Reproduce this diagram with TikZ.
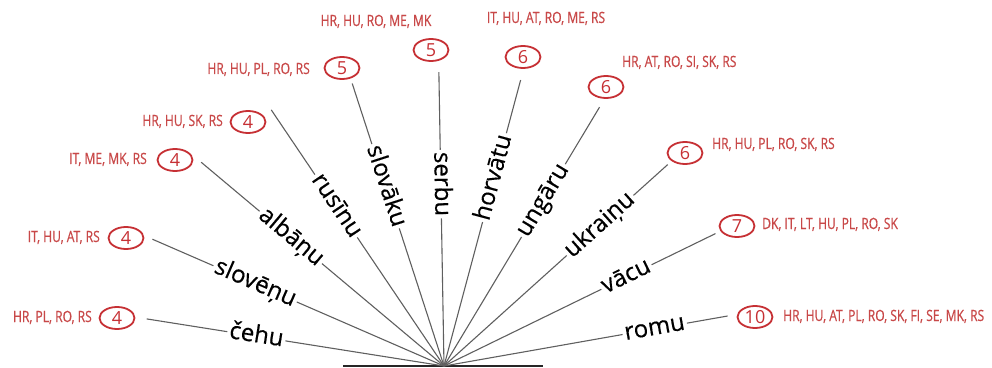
\documentclass[tikz,border=0pt]{standalone}
\usepackage{fontspec}
\setmainfont{Open Sans}
\newfontfamily\codefont{Open Sans}[FakeStretch=0.78,FakeBold=0.6]
\newfontfamily\wordfont{Open Sans}[FakeBold=0.4]
\usetikzlibrary{calc,shapes.geometric}
\definecolor{cred}{RGB}{198,48,52}
\definecolor{tred}{RGB}{200,72,72}
\definecolor{rayc}{RGB}{95,95,95}
\begin{document}
\begin{tikzpicture}[x=1pt,y=1pt,
  ray/.style={draw=rayc,line width=1.1pt},
  word/.style={font=\wordfont\fontsize{24}{24}\selectfont, text height=17pt, text depth=5pt, inner sep=2pt},
  num/.style={ellipse,draw=cred,line width=1.8pt,minimum width=35pt,minimum height=22pt,inner sep=0pt,text=cred,font=\fontsize{18}{18}\selectfont},
  codes/.style={text=tred,font=\codefont\fontsize{15.5}{15.5}\selectfont,inner sep=0pt,text height=11pt,text depth=3pt}
]
\useasboundingbox (0,0) rectangle (992,367);
\coordinate (hub) at (444,1);
\coordinate (bl) at (343,1);
\coordinate (br) at (543,1);
\draw[draw=black!85,line width=1.5pt] (bl) -- (br);

% words (left side: east toward hub)
\node[word,rotate=-9]   (w1) at ($(hub)+(171:190)$) {čehu};
\node[word,rotate=-23.5](w2) at ($(hub)+(156.5:206)$) {slovēņu};
\node[word,rotate=-40]  (w3) at ($(hub)+(140:200)$) {albāņu};
\node[word,rotate=-56]  (w4) at ($(hub)+(124:193)$) {rusīnu};
\node[word,rotate=-72]  (w5) at ($(hub)+(108:189)$) {slovāku};
\node[word,rotate=-89]  (w6) at ($(hub)+(91:182)$) {serbu};
% right side: west toward hub
\node[word,rotate=75] (w7) at ($(hub)+(75:195)$) {horvātu};
\node[word,rotate=59] (w8) at ($(hub)+(59:193)$) {ungāru};
\node[word,rotate=42] (w9) at ($(hub)+(42:210)$) {ukraiņu};
\node[word,rotate=26] (w10) at ($(hub)+(26:203)$) {vācu};
\node[word,rotate=10] (w11) at ($(hub)+(10:214)$) {romu};

% outer line ends
\coordinate (e1) at ($(hub)+(171:301)$);
\coordinate (e2) at ($(hub)+(156.5:318)$);
\coordinate (e3) at ($(hub)+(140:317)$);
\coordinate (e4) at ($(hub)+(124:309)$);
\coordinate (e5) at ($(hub)+(108:297)$);
\coordinate (e6) at ($(hub)+(91:294)$);
\coordinate (e7) at ($(hub)+(75:296)$);
\coordinate (e8) at ($(hub)+(59:302)$);
\coordinate (e9) at ($(hub)+(42:301)$);
\coordinate (e10) at ($(hub)+(26:302)$);
\coordinate (e11) at ($(hub)+(10:288)$);

\foreach \i in {1,...,6} {
  \draw[ray] (hub) -- (w\i.east);
  \draw[ray] (w\i.west) -- (e\i);
}
\foreach \i in {7,...,11} {
  \draw[ray] (hub) -- (w\i.west);
  \draw[ray] (w\i.east) -- (e\i);
}

% count ellipses
\node[num] (c1) at (117,49) {4};
\node[num] (c2) at (126,129) {4};
\node[num] (c3) at (175,207) {4};
\node[num] (c4) at (248,245) {4};
\node[num] (c5) at (342,299) {5};
\node[num] (c6) at (431,317) {5};
\node[num] (c7) at (523,310) {6};
\node[num] (c8) at (606,280) {6};
\node[num] (c9) at (685,214) {6};
\node[num] (c10) at (737,141) {7};
\node[num] (c11) at (755,50) {10};

% country codes
\node[codes,anchor=east] (t1) at (92,49) {HR, PL, RO, RS};
\node[codes,anchor=east] (t2) at (100,129) {IT, HU, AT, RS};
\node[codes,anchor=east] (t3) at (147,207) {IT, ME, MK, RS};
\node[codes,anchor=east] (t4) at (223,245) {HR, HU, SK, RS};
\node[codes,anchor=east] (t5) at (310,297) {HR, HU, PL, RO, RS};
\node[codes] (t6) at (376,345) {HR, HU, RO, ME, MK};
\node[codes] (t7) at (546,348) {IT, HU, AT, RO, ME, RS};
\node[codes,anchor=west] (t8) at (622,304) {HR, AT, RO, SI, SK, RS};
\node[codes,anchor=west] (t9) at (712,222) {HR, HU, PL, RO, SK, RS};
\node[codes,anchor=west] (t10) at (762,142) {DK, IT, LT, HU, PL, RO, SK};
\node[codes,anchor=west] (t11) at (783,50) {HR, HU, AT, PL, RO, SK, FI, SE, MK, RS};
\end{tikzpicture}
\end{document}
